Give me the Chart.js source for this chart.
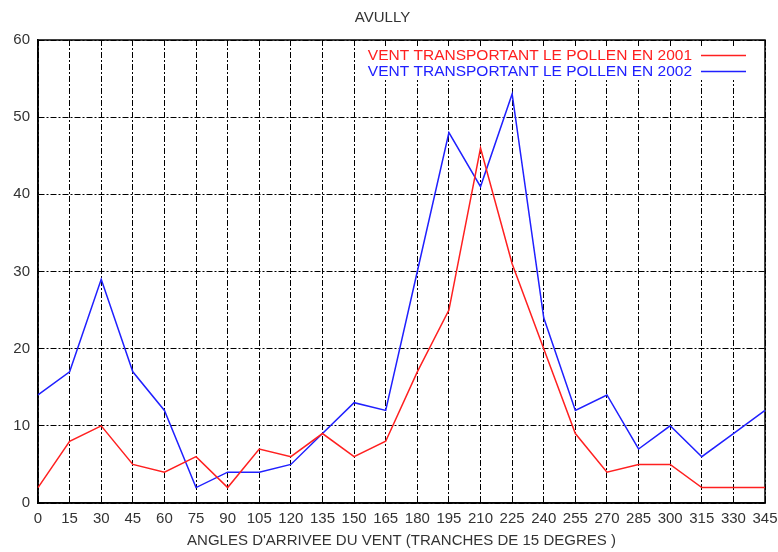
<!DOCTYPE html>
<html>
<head>
<meta charset="utf-8">
<script src="https://cdn.jsdelivr.net/npm/chart.js@4.4.1/dist/chart.umd.min.js"></script>
<style>
html,body{margin:0;padding:0;background:#fff;}
#wrap{width:778px;height:552px;position:relative;}
</style>
</head>
<body>
<div id="wrap"><canvas id="c" width="778" height="552"></canvas></div>
<script>
const angles = ['0','15','30','45','60','75','90','105','120','135','150','165','180','195','210','225','240','255','270','285','300','315','330','345'];
const vent2001 = [2,8,10,5,4,6,2,7,6,9,6,8,17,25,46,31,20,9,4,5,5,2,2,2];
const vent2002 = [14,17,29,17,12,2,4,4,5,9,13,12,30,48,41,53,24,12,14,7,10,6,9,12];
const seriesLabels = ['VENT TRANSPORTANT LE POLLEN EN 2001','VENT TRANSPORTANT LE POLLEN EN 2002'];
const chartTitle = 'AVULLY';
const xTitle = "ANGLES D'ARRIVEE DU VENT (TRANCHES DE 15 DEGRES )";

const FONT = 'Liberation Sans, Arial, sans-serif';

const framePlugin = {
  id: 'frame',
  beforeDatasetsDraw(chart) {
    const {ctx, chartArea: a} = chart;
    ctx.save();
    ctx.strokeStyle = '#000';
    ctx.lineWidth = 1.5;
    ctx.setLineDash([]);
    ctx.strokeRect(a.left, a.top, a.right - a.left, a.bottom - a.top);
    ctx.restore();
  },
  afterDatasetsDraw(chart) {
    const {ctx} = chart;
    ctx.save();
    ctx.fillStyle = '#fff';
    ctx.fillRect(364, 46, 386, 34);
    ctx.font = '15.5px ' + FONT;
    ctx.textAlign = 'right';
    ctx.textBaseline = 'middle';
    const ys = [55.5, 71.5];
    chart.data.datasets.forEach((ds, i) => {
      ctx.fillStyle = ds.borderColor;
      ctx.fillText(ds.label, 692, ys[i]);
      ctx.strokeStyle = ds.borderColor;
      ctx.lineWidth = 1.5;
      ctx.beginPath();
      ctx.moveTo(701, ys[i]);
      ctx.lineTo(746, ys[i]);
      ctx.stroke();
    });
    ctx.restore();
  }
};

new Chart(document.getElementById('c'), {
  type: 'line',
  data: {
    labels: angles,
    datasets: [
      {label: seriesLabels[0], data: vent2001, borderColor: '#ff2020', borderWidth: 1.5, pointRadius: 0, tension: 0, fill: false},
      {label: seriesLabels[1], data: vent2002, borderColor: '#2020ff', borderWidth: 1.5, pointRadius: 0, tension: 0, fill: false}
    ]
  },
  options: {
    responsive: false,
    animation: false,
    layout: {padding: {left: 0, right: 13, top: 0, bottom: 0}},
    plugins: {
      legend: {display: false},
      tooltip: {enabled: false},
      title: {display: true, text: chartTitle, color: '#333', font: {family: FONT, size: 15, weight: 'normal'}, padding: {top: 8.5, bottom: 13.5}}
    },
    scales: {
      x: {
        type: 'category',
        offset: false,
        grid: {color: '#000', lineWidth: 1, drawTicks: false},
        border: {display: true, color: '#000', width: 1.5, dash: [6,2,2,2]},
        ticks: {color: '#333', font: {family: FONT, size: 15}, padding: 7, maxRotation: 0, autoSkip: false},
        title: {display: true, text: xTitle, color: '#333', font: {family: FONT, size: 15}, padding: {top: 0, bottom: 2}},
        afterFit(s) { s.height = 49; s.paddingLeft = 0; s.paddingRight = 0; }
      },
      y: {
        min: 0, max: 60,
        ticks: {stepSize: 10, color: '#333', font: {family: FONT, size: 15}, padding: 8},
        grid: {color: '#000', lineWidth: 1, drawTicks: false},
        border: {display: true, color: '#000', width: 1.5, dash: [6,2,2,2]},
        afterFit(s) { s.width = 38; s.paddingTop = 0; s.paddingBottom = 0; }
      }
    }
  },
  plugins: [framePlugin]
});
</script>
</body>
</html>
